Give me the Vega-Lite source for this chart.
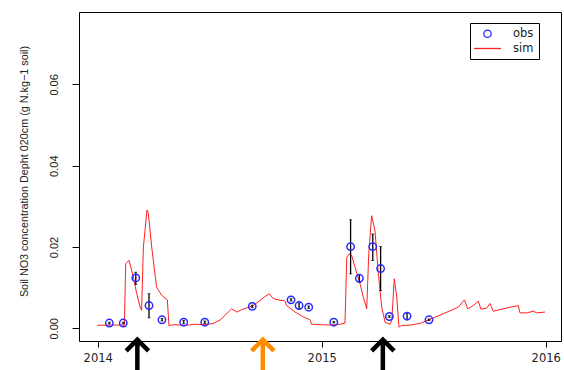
{
  "$schema": "https://vega.github.io/schema/vega-lite/v6.json",
  "width": 482,
  "height": 329,
  "autosize": "none",
  "padding": {"left": 79, "top": 12, "right": 3, "bottom": 29},
  "background": "white",
  "config": {
    "view": {"stroke": "black", "strokeWidth": 1},
    "font": "Liberation Sans",
    "legend": {
      "orient": "none", "legendX": 391, "legendY": 11, "title": null,
      "strokeColor": "black", "strokeWidth": 1, "padding": 5, "rowPadding": 0,
      "symbolOffset": 5, "symbolStrokeWidth": 1.3, "labelFontSize": 11.5,
      "labelFont": "DejaVu Sans", "labelColor": "#222222", "labelOffset": 18
    }
  },
  "datasets": {
    "obs": [
      {"year": 2014.052, "value": 0.0013, "lo": 0.0011, "hi": 0.0015, "series": "obs"},
      {"year": 2014.114, "value": 0.0013, "lo": 0.0011, "hi": 0.0015, "series": "obs"},
      {"year": 2014.170, "value": 0.0124, "lo": 0.0108, "hi": 0.0138, "series": "obs"},
      {"year": 2014.229, "value": 0.0056, "lo": 0.0026, "hi": 0.0085, "series": "obs"},
      {"year": 2014.287, "value": 0.0021, "lo": 0.0018, "hi": 0.0024, "series": "obs"},
      {"year": 2014.384, "value": 0.0015, "lo": 0.0011, "hi": 0.0019, "series": "obs"},
      {"year": 2014.478, "value": 0.0015, "lo": 0.0012, "hi": 0.0018, "series": "obs"},
      {"year": 2014.690, "value": 0.0054, "lo": 0.0051, "hi": 0.0057, "series": "obs"},
      {"year": 2014.863, "value": 0.0070, "lo": 0.0067, "hi": 0.0073, "series": "obs"},
      {"year": 2014.899, "value": 0.0056, "lo": 0.0048, "hi": 0.0063, "series": "obs"},
      {"year": 2014.942, "value": 0.0052, "lo": 0.0049, "hi": 0.0055, "series": "obs"},
      {"year": 2015.054, "value": 0.0015, "lo": 0.0013, "hi": 0.0017, "series": "obs"},
      {"year": 2015.129, "value": 0.0201, "lo": 0.0134, "hi": 0.0267, "series": "obs"},
      {"year": 2015.168, "value": 0.0123, "lo": 0.0113, "hi": 0.0132, "series": "obs"},
      {"year": 2015.228, "value": 0.0201, "lo": 0.0167, "hi": 0.0232, "series": "obs"},
      {"year": 2015.263, "value": 0.0147, "lo": 0.0093, "hi": 0.0201, "series": "obs"},
      {"year": 2015.302, "value": 0.0029, "lo": 0.0027, "hi": 0.0031, "series": "obs"},
      {"year": 2015.381, "value": 0.0030, "lo": 0.0021, "hi": 0.0038, "series": "obs"},
      {"year": 2015.479, "value": 0.0021, "lo": 0.0019, "hi": 0.0023, "series": "obs"}
    ],
    "sim": [
      {"year": 2013.998, "value": 0.00074, "series": "sim"},
      {"year": 2014.055, "value": 0.0008, "series": "sim"},
      {"year": 2014.119, "value": 0.0008, "series": "sim"},
      {"year": 2014.125, "value": 0.0159, "series": "sim"},
      {"year": 2014.140, "value": 0.0167, "series": "sim"},
      {"year": 2014.159, "value": 0.0127, "series": "sim"},
      {"year": 2014.174, "value": 0.0086, "series": "sim"},
      {"year": 2014.189, "value": 0.0053, "series": "sim"},
      {"year": 2014.196, "value": 0.0044, "series": "sim"},
      {"year": 2014.204, "value": 0.0200, "series": "sim"},
      {"year": 2014.220, "value": 0.0291, "series": "sim"},
      {"year": 2014.226, "value": 0.0283, "series": "sim"},
      {"year": 2014.241, "value": 0.0200, "series": "sim"},
      {"year": 2014.263, "value": 0.0101, "series": "sim"},
      {"year": 2014.286, "value": 0.0081, "series": "sim"},
      {"year": 2014.311, "value": 0.0070, "series": "sim"},
      {"year": 2014.318, "value": 0.0007, "series": "sim"},
      {"year": 2014.345, "value": 0.0009, "series": "sim"},
      {"year": 2014.390, "value": 0.0007, "series": "sim"},
      {"year": 2014.434, "value": 0.0010, "series": "sim"},
      {"year": 2014.479, "value": 0.0009, "series": "sim"},
      {"year": 2014.515, "value": 0.0012, "series": "sim"},
      {"year": 2014.546, "value": 0.0020, "series": "sim"},
      {"year": 2014.598, "value": 0.0048, "series": "sim"},
      {"year": 2014.621, "value": 0.0040, "series": "sim"},
      {"year": 2014.643, "value": 0.0046, "series": "sim"},
      {"year": 2014.665, "value": 0.0050, "series": "sim"},
      {"year": 2014.695, "value": 0.0056, "series": "sim"},
      {"year": 2014.725, "value": 0.0069, "series": "sim"},
      {"year": 2014.747, "value": 0.0078, "series": "sim"},
      {"year": 2014.766, "value": 0.0085, "series": "sim"},
      {"year": 2014.784, "value": 0.0073, "series": "sim"},
      {"year": 2014.814, "value": 0.0069, "series": "sim"},
      {"year": 2014.835, "value": 0.0068, "series": "sim"},
      {"year": 2014.844, "value": 0.0056, "series": "sim"},
      {"year": 2014.881, "value": 0.0040, "series": "sim"},
      {"year": 2014.918, "value": 0.0028, "series": "sim"},
      {"year": 2014.948, "value": 0.0021, "series": "sim"},
      {"year": 2014.955, "value": 0.0010, "series": "sim"},
      {"year": 2014.993, "value": 0.0009, "series": "sim"},
      {"year": 2015.037, "value": 0.0008, "series": "sim"},
      {"year": 2015.082, "value": 0.0010, "series": "sim"},
      {"year": 2015.104, "value": 0.0013, "series": "sim"},
      {"year": 2015.112, "value": 0.0175, "series": "sim"},
      {"year": 2015.123, "value": 0.0183, "series": "sim"},
      {"year": 2015.134, "value": 0.0179, "series": "sim"},
      {"year": 2015.149, "value": 0.0150, "series": "sim"},
      {"year": 2015.171, "value": 0.0110, "series": "sim"},
      {"year": 2015.185, "value": 0.0078, "series": "sim"},
      {"year": 2015.201, "value": 0.0048, "series": "sim"},
      {"year": 2015.210, "value": 0.0183, "series": "sim"},
      {"year": 2015.223, "value": 0.0277, "series": "sim"},
      {"year": 2015.238, "value": 0.0240, "series": "sim"},
      {"year": 2015.253, "value": 0.0134, "series": "sim"},
      {"year": 2015.268, "value": 0.0052, "series": "sim"},
      {"year": 2015.283, "value": 0.0015, "series": "sim"},
      {"year": 2015.305, "value": 0.0010, "series": "sim"},
      {"year": 2015.313, "value": 0.0020, "series": "sim"},
      {"year": 2015.324, "value": 0.0122, "series": "sim"},
      {"year": 2015.335, "value": 0.0077, "series": "sim"},
      {"year": 2015.345, "value": 0.0003, "series": "sim"},
      {"year": 2015.357, "value": 0.0007, "series": "sim"},
      {"year": 2015.394, "value": 0.0008, "series": "sim"},
      {"year": 2015.439, "value": 0.0012, "series": "sim"},
      {"year": 2015.483, "value": 0.0022, "series": "sim"},
      {"year": 2015.543, "value": 0.0036, "series": "sim"},
      {"year": 2015.610, "value": 0.0052, "series": "sim"},
      {"year": 2015.637, "value": 0.0070, "series": "sim"},
      {"year": 2015.652, "value": 0.0048, "series": "sim"},
      {"year": 2015.677, "value": 0.0056, "series": "sim"},
      {"year": 2015.699, "value": 0.0067, "series": "sim"},
      {"year": 2015.711, "value": 0.0047, "series": "sim"},
      {"year": 2015.737, "value": 0.0050, "series": "sim"},
      {"year": 2015.751, "value": 0.0061, "series": "sim"},
      {"year": 2015.766, "value": 0.0042, "series": "sim"},
      {"year": 2015.826, "value": 0.0050, "series": "sim"},
      {"year": 2015.878, "value": 0.0056, "series": "sim"},
      {"year": 2015.885, "value": 0.0038, "series": "sim"},
      {"year": 2015.915, "value": 0.0038, "series": "sim"},
      {"year": 2015.945, "value": 0.0042, "series": "sim"},
      {"year": 2015.960, "value": 0.0038, "series": "sim"},
      {"year": 2015.997, "value": 0.0040, "series": "sim"}
    ],
    "events": [
      {"year": 2014.177, "event": "A"},
      {"year": 2014.737, "event": "B"},
      {"year": 2015.273, "event": "A"}
    ]
  },
  "layer": [
    {
      "data": {"name": "sim"},
      "mark": {"type": "line", "strokeWidth": 1},
      "encoding": {
        "x": {
          "field": "year", "type": "quantitative",
          "scale": {"domain": [2013.9165, 2016.0683], "nice": false, "zero": false},
          "axis": {
            "values": [2014, 2015, 2016], "format": "d", "title": null, "grid": false,
            "domain": false, "tickColor": "black", "tickSize": 6, "labelColor": "#222222",
            "labelFont": "DejaVu Sans", "labelFontSize": 11.5, "labelPadding": 5, "labelFlush": false
          }
        },
        "y": {
          "field": "value", "type": "quantitative",
          "scale": {"domain": [-0.00312, 0.07781], "nice": false, "zero": false},
          "axis": {
            "values": [0, 0.02, 0.04, 0.06], "format": ".2f",
            "title": "Soil NO3 concentration Depht 020cm  (g N.kg−1 soil)",
            "grid": false, "domain": false, "tickColor": "black", "tickSize": 7,
            "labelAngle": -90, "labelAlign": "center", "labelBaseline": "bottom",
            "labelPadding": 13, "labelFontSize": 11, "labelColor": "#222222", "labelFlush": false,
            "titleFontSize": 10.8, "titleFontWeight": "normal", "titleColor": "#222222",
            "titlePadding": 19, "titleY": 159
          }
        },
        "color": {
          "field": "series", "type": "nominal",
          "scale": {"domain": ["obs", "sim"], "range": ["#2a2aff", "#ff2020"]}
        }
      }
    },
    {
      "data": {"name": "obs"},
      "mark": {"type": "rule", "color": "black", "strokeWidth": 1.3},
      "encoding": {
        "x": {"field": "year", "type": "quantitative"},
        "y": {"field": "lo", "type": "quantitative"},
        "y2": {"field": "hi"}
      }
    },
    {
      "data": {"name": "obs"},
      "mark": {"type": "tick", "color": "black", "orient": "horizontal", "size": 3, "thickness": 1},
      "encoding": {
        "x": {"field": "year", "type": "quantitative"},
        "y": {"field": "lo", "type": "quantitative"}
      }
    },
    {
      "data": {"name": "obs"},
      "mark": {"type": "tick", "color": "black", "orient": "horizontal", "size": 3, "thickness": 1},
      "encoding": {
        "x": {"field": "year", "type": "quantitative"},
        "y": {"field": "hi", "type": "quantitative"}
      }
    },
    {
      "data": {"name": "obs"},
      "mark": {"type": "point", "filled": false, "strokeWidth": 1.5, "opacity": 1},
      "encoding": {
        "x": {"field": "year", "type": "quantitative"},
        "y": {"field": "value", "type": "quantitative"},
        "color": {"field": "series", "type": "nominal"},
        "shape": {
          "field": "series", "type": "nominal",
          "scale": {"domain": ["obs", "sim"], "range": ["circle", "M-2,0L2,0"]}
        },
        "size": {
          "field": "series", "type": "nominal",
          "scale": {"domain": ["obs", "sim"], "range": [55, 182]}
        }
      }
    },
    {
      "data": {"name": "events"},
      "mark": {"type": "point", "shape": "M-1,1L0,0L1,1M0,0L0,3", "filled": false, "strokeWidth": 4.5, "size": 500, "opacity": 1, "strokeJoin": "miter", "strokeCap": "butt"},
      "encoding": {
        "x": {"field": "year", "type": "quantitative"},
        "y": {"datum": -0.0028},
        "stroke": {
          "field": "event", "type": "nominal",
          "scale": {"domain": ["A", "B"], "range": ["black", "#ff8c00"]},
          "legend": null
        }
      }
    }
  ]
}
